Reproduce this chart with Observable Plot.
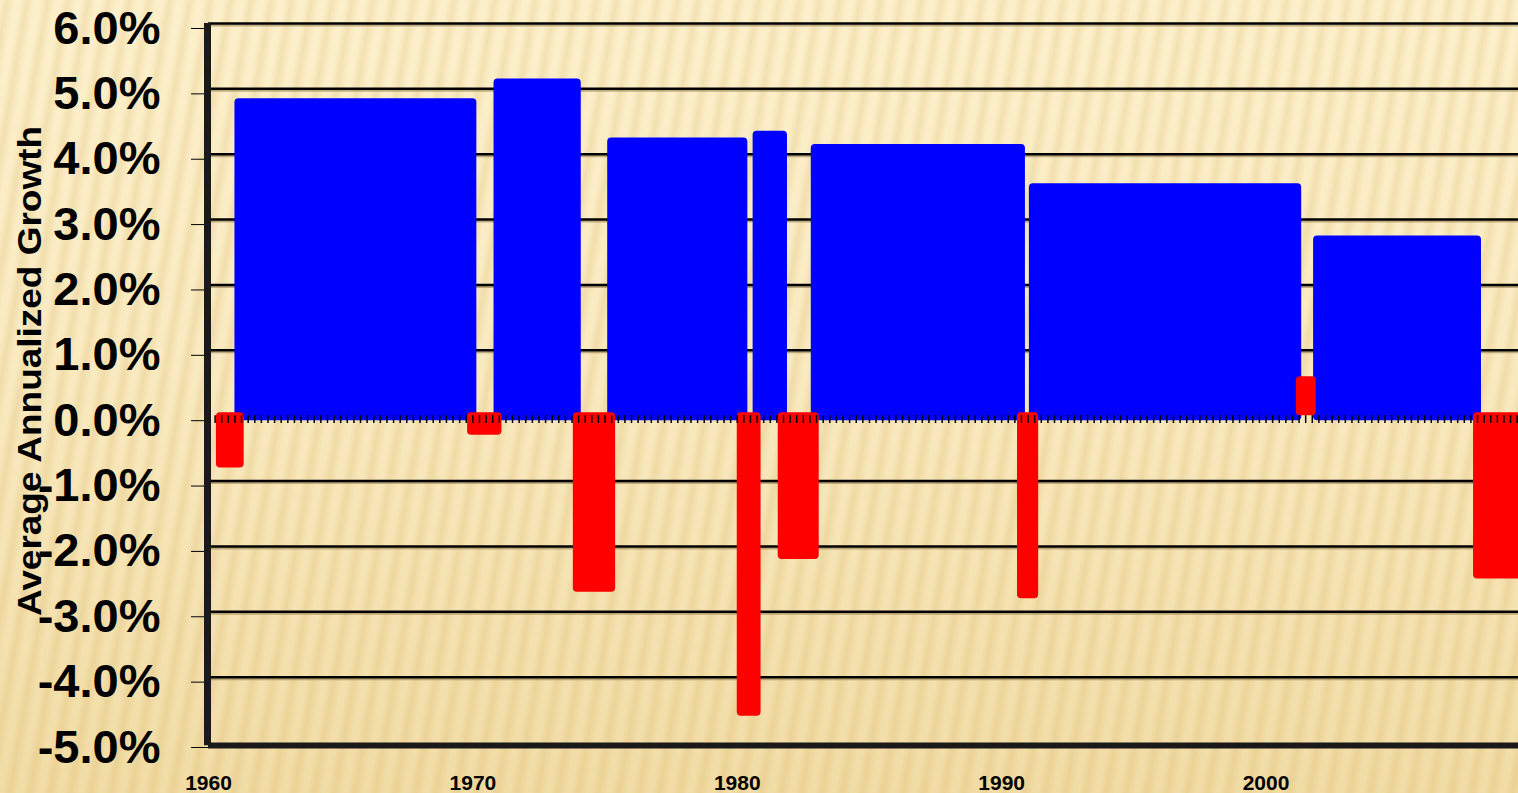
<!DOCTYPE html>
<html>
<head>
<meta charset="utf-8">
<script src="https://cdn.jsdelivr.net/npm/d3@7"></script>
<script src="https://cdn.jsdelivr.net/npm/@observablehq/plot@0.6"></script>
<style>
  html, body { margin: 0; padding: 0; }
  body {
    width: 1518px; height: 793px; overflow: hidden;
    background:
      repeating-linear-gradient(100deg, rgba(205,160,70,0) 0px, rgba(205,160,70,0.18) 7px, rgba(205,160,70,0) 15px, rgba(205,160,70,0) 20px),
      linear-gradient(180deg, #FCF0CB 0%, #F9EAC0 45%, #F1DCA5 100%);
    font-family: "Liberation Sans", Arial, sans-serif;
  }
  #chart { position: absolute; left: 0; top: 0; }
</style>
</head>
<body>
<div id="chart"></div>
<script>
// Expansions (blue): start year, end year, average annualized growth (%)
const expStart  = [1961.0, 1970.8, 1975.1, 1980.6, 1982.8, 1991.05, 2001.8];
const expEnd    = [1970.15, 1974.1, 1980.4, 1981.9, 1990.9, 2001.35, 2008.15];
const expGrowth = [4.85, 5.15, 4.25, 4.35, 4.15, 3.55, 2.75];

// Recessions (red)
const recStart  = [1960.3, 1969.8, 1973.8, 1980.0, 1981.55, 1990.6, 2001.15, 2007.85];
const recEnd    = [1961.35, 1971.1, 1975.4, 1980.9, 1983.1, 1991.4, 2001.9, 2009.7];
const recGrowth = [-0.8, -0.3, -2.7, -4.6, -2.2, -2.8, 0.55, -2.5];

// Axis ticks
const yTicks = [-5, -4, -3, -2, -1, 0, 1, 2, 3, 4, 5, 6];
const gridVals = [-4, -3, -2, -1, 1, 2, 3, 4, 5, 6];
const xTicks = [1960, 1970, 1980, 1990, 2000];
const yTitle = "Average Annualized Growth";

const expansions = expStart.map((s, i) => ({start: s, end: expEnd[i], growth: expGrowth[i]}));
const recessions = recStart.map((s, i) => ({start: s, end: recEnd[i], growth: recGrowth[i]}));
const quarters = d3.range(1960, 2009.6, 0.25);

const chart = Plot.plot({
  width: 1518,
  height: 793,
  marginLeft: 208,
  marginRight: 0,
  marginTop: 23,
  marginBottom: 51,
  style: {background: "transparent", fontFamily: "'Liberation Sans', Arial, sans-serif", overflow: "visible"},
  x: {domain: [1960, 2009.55], axis: null},
  y: {domain: [-5, 6], axis: null},
  marks: [
    Plot.ruleY(gridVals, {y: d => d, stroke: "#7a6030", strokeOpacity: 0.45, strokeWidth: 2, dy: 2}),
    Plot.ruleY(gridVals, {y: d => d, stroke: "#000", strokeWidth: 2.5}),
    Plot.rect(expansions, {x1: "start", x2: "end", y1: 0, y2: "growth", fill: "#0000FF", rx: 4, insetBottom: -5}),
    Plot.rect(recessions, {x1: "start", x2: "end", y1: 0, y2: "growth", fill: "#FF0000", rx: 4, insetTop: -3}),
    Plot.ruleX(quarters, {x: d => d, y1: 0, y2: -0.12, stroke: "#000", strokeWidth: 1.5}),
    Plot.axisY({ticks: yTicks, tickSize: 17, tickPadding: 31, tickFormat: d => d.toFixed(1) + "%",
      fontSize: 47, fontWeight: "bold", dy: 5, label: null, anchor: "left"}),
    Plot.axisX({ticks: xTicks, tickSize: 0, tickPadding: 33, tickFormat: d => String(d),
      fontSize: 21, fontWeight: "bold", label: null, anchor: "bottom"}),
    Plot.ruleX([1960], {stroke: "#1a1a1a", strokeWidth: 7, dx: -1, y1: -5.05, y2: 6}),
    Plot.ruleY([-5], {stroke: "#1a1a1a", strokeWidth: 6, dy: 3}),
    Plot.text([yTitle], {frameAnchor: "left", textAnchor: "middle", dx: -178, dy: -12, rotate: -90,
      fontSize: 34, fontWeight: "bold", fill: "#000"})
  ]
});

document.getElementById("chart").appendChild(chart);
chart.querySelectorAll("text").forEach(t => {
  if (t.textContent.trim() === yTitle) {
    t.setAttribute("textLength", 490);
    t.setAttribute("lengthAdjust", "spacingAndGlyphs");
  }
});
</script>
</body>
</html>
